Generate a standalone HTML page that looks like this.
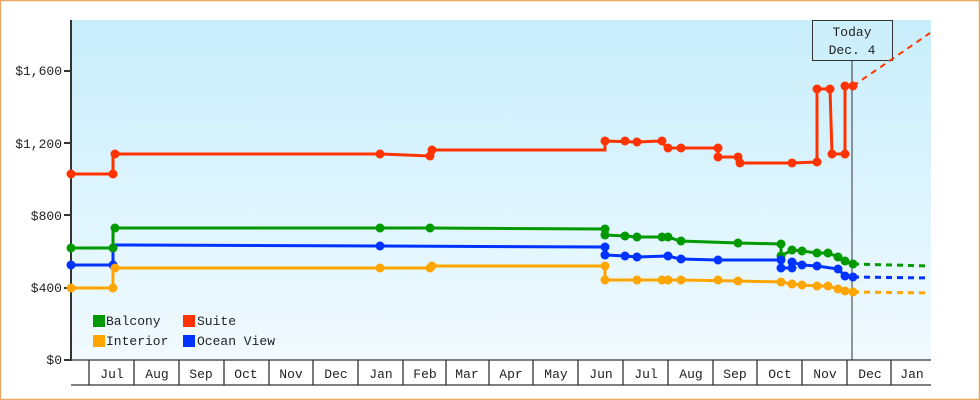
<!DOCTYPE html><html><head><style>body{margin:0;background:#fff}svg{display:block}text{font-family:"Liberation Mono",monospace;font-size:13px;fill:#222}</style></head><body>
<svg width="980" height="400" viewBox="0 0 980 400">
<defs><linearGradient id="g" x1="0" y1="0" x2="0" y2="1"><stop offset="0" stop-color="#c8eefc"/><stop offset="1" stop-color="#f1faff"/></linearGradient></defs>
<rect x="0.5" y="0.5" width="979" height="399" fill="#fff" stroke="#e8a865" stroke-width="1.5"/>
<rect x="71" y="20" width="860" height="340" fill="url(#g)"/>
<g stroke="#333" stroke-width="1.3" fill="none">
<line x1="71" y1="360" x2="931" y2="360"/><line x1="71" y1="385" x2="931" y2="385"/>
<path d="M89 360V385M134 360V385M179 360V385M224 360V385M269 360V385M313 360V385M358 360V385M403 360V385M446 360V385M489 360V385M533 360V385M578 360V385M623 360V385M668 360V385M713 360V385M757 360V385M802 360V385M847 360V385M891 360V385"/>
</g>
<g text-anchor="middle">
<text x="112" y="378">Jul</text><text x="157" y="378">Aug</text><text x="201" y="378">Sep</text><text x="246" y="378">Oct</text><text x="291" y="378">Nov</text><text x="336" y="378">Dec</text><text x="381" y="378">Jan</text><text x="425" y="378">Feb</text><text x="467" y="378">Mar</text><text x="511" y="378">Apr</text><text x="556" y="378">May</text><text x="601" y="378">Jun</text><text x="646" y="378">Jul</text><text x="691" y="378">Aug</text><text x="735" y="378">Sep</text><text x="780" y="378">Oct</text><text x="825" y="378">Nov</text><text x="870" y="378">Dec</text><text x="912" y="378">Jan</text>
</g>
<g text-anchor="end">
<text x="62" y="364">$0</text><text x="62" y="292">$400</text><text x="62" y="220">$800</text><text x="62" y="148">$1,200</text><text x="62" y="75">$1,600</text>
</g>
<g stroke="#333" stroke-width="2"><line x1="71" y1="20" x2="71" y2="361"/><path d="M64 360H71M64 288H71M64 215H71M64 143H71M64 71H71"/></g>
<line x1="852" y1="60" x2="852" y2="360" stroke="#333" stroke-width="1"/>
<rect x="812.5" y="20.5" width="80" height="40" fill="#cdeffc" stroke="#333"/>
<text x="852" y="36" text-anchor="middle">Today</text><text x="852" y="54" text-anchor="middle">Dec. 4</text>
<g fill="none" stroke-width="3">
<polyline stroke="#ff3300" points="71,174 113,174 113,154 380,154 430,156 432,150 605,150 605,141 637,142 660,141 668,148 718,148 718,157 740,157 740,163 792,163 817,162 817,89 830,89 832,154 845,154 845,86 853,86"/>
<polyline stroke="#009900" points="71,248 113,248 113,228 380,228 430,228 605,229 605,235 625,236 637,237 668,237 680,241 738,243 781,244 781,256 792,250 802,251 817,253 828,253 838,257 845,261 853,264"/>
<polyline stroke="#0033ff" points="71,265 113,265 113,245 380,246 605,247 605,255 625,256 637,257 668,256 680,259 718,260 781,260 781,268 792,268 792,262 802,265 817,266 838,269 845,276 853,277"/>
<polyline stroke="#ffa500" points="71,288 113,288 113,268 380,268 430,268 432,266 605,266 605,280 681,280 738,281 781,282 792,284 802,285 817,286 828,286 838,289 845,291 853,292"/>
<g stroke-dasharray="6,5"><line x1="853" y1="86" x2="930" y2="33" stroke="#ff3300" stroke-width="2"/><line x1="853" y1="264" x2="930" y2="266" stroke="#009900"/><line x1="853" y1="277" x2="930" y2="278" stroke="#0033ff"/><line x1="853" y1="292" x2="930" y2="293" stroke="#ffa500"/></g>
</g>
<g fill="#ff3300"><circle cx="71" cy="174" r="4.5"/><circle cx="113" cy="174" r="4.5"/><circle cx="115" cy="154" r="4.5"/><circle cx="380" cy="154" r="4.5"/><circle cx="430" cy="156" r="4.5"/><circle cx="432" cy="150" r="4.5"/><circle cx="605" cy="141" r="4.5"/><circle cx="625" cy="141" r="4.5"/><circle cx="637" cy="142" r="4.5"/><circle cx="662" cy="141" r="4.5"/><circle cx="668" cy="148" r="4.5"/><circle cx="681" cy="148" r="4.5"/><circle cx="718" cy="148" r="4.5"/><circle cx="718" cy="157" r="4.5"/><circle cx="738" cy="157" r="4.5"/><circle cx="740" cy="163" r="4.5"/><circle cx="792" cy="163" r="4.5"/><circle cx="817" cy="162" r="4.5"/><circle cx="817" cy="89" r="4.5"/><circle cx="830" cy="89" r="4.5"/><circle cx="832" cy="154" r="4.5"/><circle cx="845" cy="154" r="4.5"/><circle cx="845" cy="86" r="4.5"/><circle cx="853" cy="86" r="4.5"/></g>
<g fill="#009900"><circle cx="71" cy="248" r="4.5"/><circle cx="113" cy="248" r="4.5"/><circle cx="115" cy="228" r="4.5"/><circle cx="380" cy="228" r="4.5"/><circle cx="430" cy="228" r="4.5"/><circle cx="605" cy="229" r="4.5"/><circle cx="605" cy="235" r="4.5"/><circle cx="625" cy="236" r="4.5"/><circle cx="637" cy="237" r="4.5"/><circle cx="662" cy="237" r="4.5"/><circle cx="668" cy="237" r="4.5"/><circle cx="681" cy="241" r="4.5"/><circle cx="738" cy="243" r="4.5"/><circle cx="781" cy="244" r="4.5"/><circle cx="781" cy="256" r="4.5"/><circle cx="792" cy="250" r="4.5"/><circle cx="802" cy="251" r="4.5"/><circle cx="817" cy="253" r="4.5"/><circle cx="828" cy="253" r="4.5"/><circle cx="838" cy="257" r="4.5"/><circle cx="845" cy="261" r="4.5"/><circle cx="853" cy="264" r="4.5"/></g>
<g fill="#0033ff"><circle cx="71" cy="265" r="4.5"/><circle cx="113" cy="265" r="4.5"/><circle cx="380" cy="246" r="4.5"/><circle cx="605" cy="247" r="4.5"/><circle cx="605" cy="255" r="4.5"/><circle cx="625" cy="256" r="4.5"/><circle cx="637" cy="257" r="4.5"/><circle cx="668" cy="256" r="4.5"/><circle cx="681" cy="259" r="4.5"/><circle cx="718" cy="260" r="4.5"/><circle cx="781" cy="260" r="4.5"/><circle cx="781" cy="268" r="4.5"/><circle cx="792" cy="268" r="4.5"/><circle cx="792" cy="262" r="4.5"/><circle cx="802" cy="265" r="4.5"/><circle cx="817" cy="266" r="4.5"/><circle cx="838" cy="269" r="4.5"/><circle cx="845" cy="276" r="4.5"/><circle cx="853" cy="277" r="4.5"/></g>
<g fill="#ffa500"><circle cx="71" cy="288" r="4.5"/><circle cx="113" cy="288" r="4.5"/><circle cx="115" cy="268" r="4.5"/><circle cx="380" cy="268" r="4.5"/><circle cx="430" cy="268" r="4.5"/><circle cx="432" cy="266" r="4.5"/><circle cx="605" cy="266" r="4.5"/><circle cx="605" cy="280" r="4.5"/><circle cx="637" cy="280" r="4.5"/><circle cx="662" cy="280" r="4.5"/><circle cx="668" cy="280" r="4.5"/><circle cx="681" cy="280" r="4.5"/><circle cx="718" cy="280" r="4.5"/><circle cx="738" cy="281" r="4.5"/><circle cx="781" cy="282" r="4.5"/><circle cx="792" cy="284" r="4.5"/><circle cx="802" cy="285" r="4.5"/><circle cx="817" cy="286" r="4.5"/><circle cx="828" cy="286" r="4.5"/><circle cx="838" cy="289" r="4.5"/><circle cx="845" cy="291" r="4.5"/><circle cx="853" cy="292" r="4.5"/></g>
<rect x="93" y="315" width="12" height="12" fill="#009900"/><text x="106" y="325">Balcony</text>
<rect x="183" y="315" width="12" height="12" fill="#ff3300"/><text x="197" y="325">Suite</text>
<rect x="93" y="335" width="12" height="12" fill="#ffa500"/><text x="106" y="345">Interior</text>
<rect x="183" y="335" width="12" height="12" fill="#0033ff"/><text x="197" y="345">Ocean View</text>
</svg></body></html>
